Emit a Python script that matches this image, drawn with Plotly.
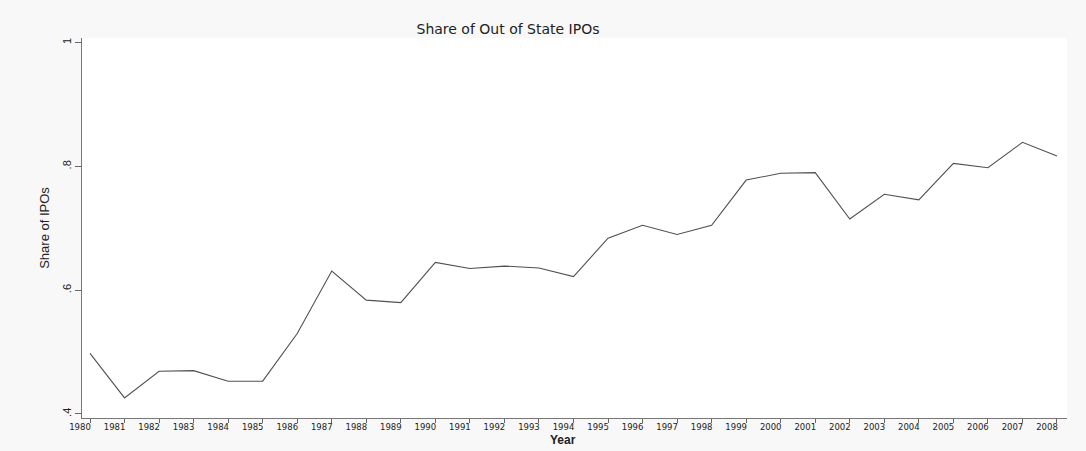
import plotly.graph_objects as go

# Share of IPOs issued by firms headquartered out of state, by year
years = list(range(1980, 2009))
share_out_of_state = [
    0.498, 0.426, 0.469, 0.470, 0.453, 0.453, 0.530, 0.631, 0.584, 0.580,
    0.645, 0.635, 0.639, 0.636, 0.622, 0.684, 0.705, 0.690, 0.705, 0.778,
    0.789, 0.790, 0.715, 0.755, 0.746, 0.805, 0.798, 0.839, 0.817,
]
y_tick_vals = [0.4, 0.6, 0.8, 1.0]
y_tick_text = [".4", ".6", ".8", "1"]
x_tick_text = [str(y) for y in years]

W, H = 1086, 451

fig = go.Figure()
fig.add_trace(go.Scatter(
    x=years,
    y=share_out_of_state,
    mode="lines",
    line=dict(color="#505050", width=1.1),
    showlegend=False,
))

fig.update_layout(
    width=W,
    height=H,
    margin=dict(l=82, r=19, t=38, b=33, pad=0),
    paper_bgcolor="#f8f8f8",
    plot_bgcolor="#ffffff",
    title=dict(
        text="Share of Out of State IPOs",
        font=dict(family="DejaVu Sans, sans-serif", size=14, color="#222222"),
        xref="container", yref="container",
        x=508 / W, y=1 - 29 / H,
        xanchor="center", yanchor="middle",
    ),
    xaxis=dict(
        range=[1979.768, 2008.29],
        tickmode="array",
        tickvals=years,
        ticktext=x_tick_text,
        ticks="outside",
        ticklen=4,
        tickwidth=1,
        tickcolor="#666666",
        tickfont=dict(family="DejaVu Sans, sans-serif", size=8.5, color="#222222"),
        ticklabelshift=-10,
        ticklabelstandoff=-3,
        showline=True,
        linecolor="#777777",
        linewidth=1,
        showgrid=False,
        zeroline=False,
    ),
    yaxis=dict(
        range=[0.3935, 1.0076],
        tickmode="array",
        tickvals=y_tick_vals,
        ticktext=y_tick_text,
        tickangle=-90,
        ticks="outside",
        ticklen=6,
        tickwidth=1,
        tickcolor="#666666",
        tickfont=dict(family="Liberation Sans, Arial, sans-serif", size=11, color="#222222"),
        showline=True,
        linecolor="#777777",
        linewidth=1,
        showgrid=False,
        zeroline=False,
        title=dict(
            text="Share of IPOs",
            font=dict(family="Liberation Sans, Arial, sans-serif", size=13, color="#222222"),
            standoff=8,
        ),
    ),
    annotations=[
        dict(
            text="<b>Year</b>",
            xref="paper", yref="paper",
            x=(563 - 82) / (W - 82 - 19),
            y=-(440 - (H - 33)) / (H - 38 - 33),
            xanchor="center", yanchor="middle",
            showarrow=False,
            font=dict(family="Liberation Sans, Arial, sans-serif", size=12, color="#222222"),
        ),
    ],
)

fig.write_html("out.html")
